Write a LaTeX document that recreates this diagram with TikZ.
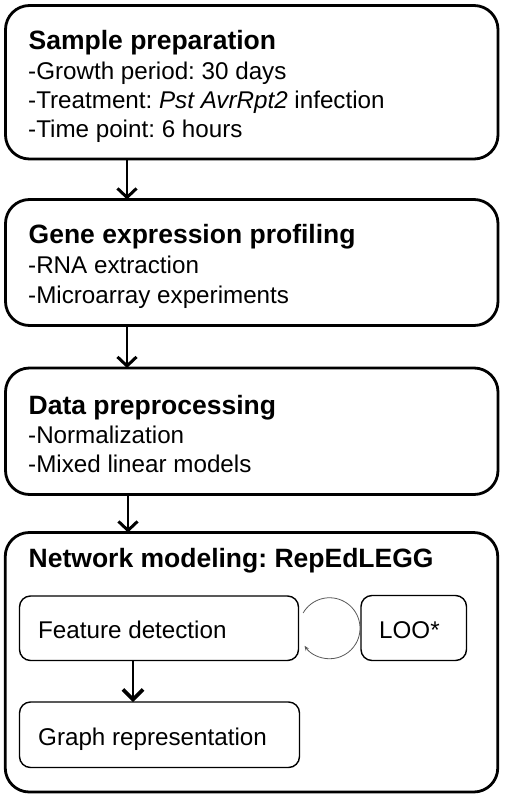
\documentclass[tikz,border=0pt]{standalone}
\usepackage{fontspec}
\setmainfont{Liberation Sans}
\frenchspacing
\usetikzlibrary{arrows.meta}
\begin{document}
\begin{tikzpicture}[x=1pt,y=1pt,
  bigbox/.style={draw=black, line width=2.8pt, rounded corners=24pt, inner sep=0pt, outer sep=0pt, minimum width=492.5pt},
  smallbox/.style={draw=black, line width=1.4pt, rounded corners=11pt, inner sep=0pt, outer sep=0pt},
  ttl/.style={anchor=base west, inner sep=0pt, font=\fontsize{26.5}{30}\selectfont\bfseries},
  txt/.style={anchor=base west, inner sep=0pt, font=\fontsize{24.2}{29}\selectfont},
  arr/.style={line width=1.5pt, -{Straight Barb[length=9pt, width=19pt, line width=3pt]}},
  arrb/.style={line width=1.8pt, -{Straight Barb[length=10pt, width=20pt, line width=3.6pt]}},
  loopc/.style={draw=black!65, line width=0.8pt, -{Stealth[length=5pt, width=4pt]}}
]
\useasboundingbox (0,0) rectangle (504,-800);
% big boxes
\node[bigbox, minimum height=153.5pt] (b1) at (251.75,-82.25) {};
\node[bigbox, minimum height=126pt] (b2) at (251.75,-262.5) {};
\node[bigbox, minimum height=126.5pt] (b3) at (251.75,-431.25) {};
\node[bigbox, minimum height=259.5pt] (b4) at (251.5,-662.25) {};
% texts box 1
\node[ttl] (t1) at (28.5,-49) {Sample preparation};
\node[txt] (t1a) at (28,-79) {-Growth period: 30 days};
\node[txt] (t1b) at (28,-108) {-Treatment: \textit{Pst AvrRpt2} infection};
\node[txt] (t1c) at (28,-137) {-Time point: 6 hours};
% texts box 2
\node[ttl] (t2) at (28.5,-243) {Gene expression profiling};
\node[txt] (t2a) at (28,-273) {-RNA extraction};
\node[txt] (t2b) at (28,-303) {-Microarray experiments};
% texts box 3
\node[ttl] (t3) at (28.5,-414) {Data preprocessing};
\node[txt] (t3a) at (28,-443) {-Normalization};
\node[txt] (t3b) at (28,-472) {-Mixed linear models};
% box 4
\node[ttl] (t4) at (28.5,-567) {Network modeling: RepEdLEGG};
\node[smallbox, minimum width=279pt, minimum height=64.5pt] (fd) at (159,-628.25) {};
\node[txt] (fdt) at (38,-638) {Feature detection};
\node[smallbox, minimum width=105.5pt, minimum height=65pt] (loo) at (413.75,-628) {};
\node[txt] (loot) at (379,-638) {LOO*};
\node[smallbox, minimum width=280pt, minimum height=65.5pt] (gr) at (159.5,-734.75) {};
\node[txt] (grt) at (38,-745) {Graph representation};
% arrows
\coordinate (ax) at (127,0);
\coordinate (bx) at (128,0);
\coordinate (cx) at (133,0);
\draw[arr] (b1.south -| ax) -- (b2.north -| ax);
\draw[arr] (b2.south -| ax) -- (b3.north -| ax);
\draw[arr] (b3.south -| bx) -- (b4.north -| bx);
\draw[arrb] (fd.south -| cx) -- (gr.north -| cx);
% loop
\draw[loopc] ([xshift=4.6pt,yshift=15.25pt]fd.east) arc[start angle=150, end angle=-145, radius=30.5pt];
\end{tikzpicture}
\end{document}
